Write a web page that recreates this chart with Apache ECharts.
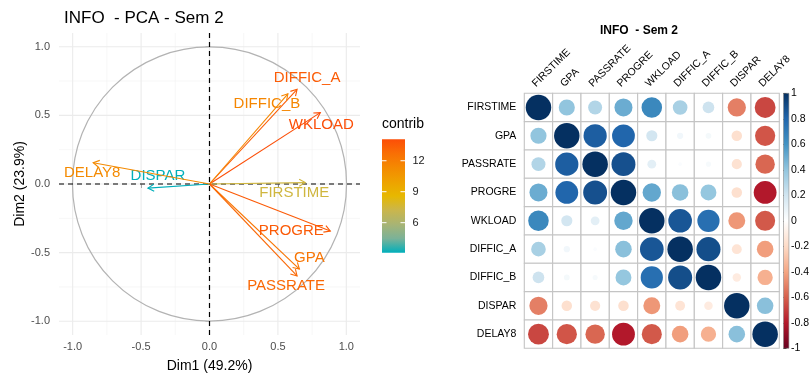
<!DOCTYPE html>
<html><head><meta charset="utf-8">
<script src="https://cdn.jsdelivr.net/npm/echarts@6/dist/echarts.min.js"></script>
<style>html,body{margin:0;padding:0;background:#fff}#c{width:812px;height:379px}</style>
</head><body><div id="c"></div><script>
// ---------- PCA data ----------
const variables = ['FIRSTIME','GPA','PASSRATE','PROGRE','WKLOAD','DIFFIC_A','DIFFIC_B','DISPAR','DELAY8'];
const dim1 = [0.70, 0.657, 0.64, 0.883, 0.81, 0.64, 0.573, -0.45, -0.85];
const dim2 = [0.01, -0.62, -0.67, -0.343, 0.52, 0.69, 0.657, -0.03, 0.155];
const contrib = [7.45, 12.4, 13.0, 13.6, 14.08, 13.5, 11.55, 3.09, 11.35];
const contribTicks = [6, 9, 12];
const pcaTicks = [-1, -0.5, 0, 0.5, 1];
const pcaMinor = [-0.75, -0.25, 0.25, 0.75];
// ---------- correlation data ----------
const corrVars = ['FIRSTIME','GPA','PASSRATE','PROGRE','WKLOAD','DIFFIC_A','DIFFIC_B','DISPAR','DELAY8'];
const corrFIRSTIME = [1, 0.40, 0.30, 0.50, 0.65, 0.33, 0.21, -0.51, -0.67];
const corrGPA      = [0.40, 1, 0.83, 0.80, 0.19, 0.06, 0.05, -0.17, -0.63];
const corrPASSRATE = [0.30, 0.83, 1, 0.88, 0.12, 0.02, 0.04, -0.16, -0.58];
const corrPROGRE   = [0.50, 0.80, 0.88, 1, 0.52, 0.42, 0.39, -0.17, -0.80];
const corrWKLOAD   = [0.65, 0.19, 0.12, 0.52, 1, 0.86, 0.76, -0.44, -0.62];
const corrDIFFIC_A = [0.33, 0.06, 0.02, 0.42, 0.86, 1, 0.89, -0.15, -0.42];
const corrDIFFIC_B = [0.21, 0.05, 0.04, 0.39, 0.76, 0.89, 1, -0.11, -0.36];
const corrDISPAR   = [-0.51, -0.17, -0.16, -0.17, -0.44, -0.15, -0.11, 1, 0.42];
const corrDELAY8   = [-0.67, -0.63, -0.58, -0.80, -0.62, -0.42, -0.36, 0.42, 1];
const corrRows = [corrFIRSTIME, corrGPA, corrPASSRATE, corrPROGRE, corrWKLOAD, corrDIFFIC_A, corrDIFFIC_B, corrDISPAR, corrDELAY8];

// ---------- styles ----------
const FONT = '"Liberation Sans", Arial, Helvetica, sans-serif';
const contribColors = ['#00AFBB','#7BB298','#A8B474','#CAB64C','#E7B800','#EEA200','#F48A01','#F96F04','#FC4E07'];
const rdbu = ['#67001F','#B2182B','#D6604D','#F4A582','#FDDBC7','#FFFFFF','#D1E5F0','#92C5DE','#4393C3','#2166AC','#053061'];
const labelOffsets = [[-11,10],[10,-11],[-11,10],[-39,0],[1,12],[10,-11],[-21,10],[10,-12],[-1,10]];
const cMin = Math.min(...contrib), cMax = Math.max(...contrib);

function stops(cols, reverse){
  const n = cols.length - 1;
  return cols.map((c,i)=>({offset: reverse ? 1 - i/n : i/n, color:c}));
}

const chart = echarts.init(document.getElementById('c'));
const arrowData = variables.map((v,i)=>[dim1[i], dim2[i], contrib[i], i]);
const corrData = [];
corrRows.forEach((row,i)=>row.forEach((v,j)=>corrData.push([j, i, v])));

chart.setOption({
  animation:false,
  backgroundColor:'#fff',
  title:[
    {text:'INFO  - PCA - Sem 2', left:59, top:5, textStyle:{fontSize:17, fontWeight:'normal', color:'#000', fontFamily:FONT}},
    {text:'INFO  - Sem 2', left:634, top:20, textAlign:'center', textStyle:{fontSize:12, fontWeight:'bold', color:'#000', fontFamily:FONT}}
  ],
  graphic:[
    {type:'text', left:382, top:117, style:{text:'contrib', fontSize:14, fontFamily:FONT, fill:'#000'}}
  ],
  visualMap:[
    {type:'continuous', show:false, seriesIndex:4, dimension:2, min:cMin, max:cMax, inRange:{color:contribColors}},
    {type:'continuous', show:false, seriesIndex:5, dimension:2, min:-1, max:1, inRange:{color:rdbu}}
  ],
  grid:[
    {left:59, top:33, width:301, height:302},
    {left:524.3, top:93.3, width:255, height:255},
    {left:783.5, top:93.3, width:10.5, height:255},
    {left:382, top:139.3, width:23, height:113.4}
  ],
  xAxis:[
    {gridIndex:0, type:'value', min:-1.1, max:1.1,
     name:'Dim1 (49.2%)', nameLocation:'middle', nameGap:24,
     nameTextStyle:{fontSize:14, color:'#000', fontFamily:FONT},
     axisLine:{show:false}, splitLine:{show:false},
     axisTick:{show:true, length:4, customValues:pcaTicks, lineStyle:{color:'#333', width:1}},
     axisLabel:{customValues:pcaTicks, margin:6, fontSize:11, color:'#4D4D4D', fontFamily:FONT, formatter:v=>v.toFixed(1)}},
    {gridIndex:1, type:'category', data:corrVars, position:'top', boundaryGap:true,
     axisLine:{show:false}, axisTick:{show:false}, splitLine:{show:false}, axisLabel:{show:false}},
    {gridIndex:2, type:'value', min:0, max:1, show:false},
    {gridIndex:3, type:'value', min:0, max:1, show:false}
  ],
  yAxis:[
    {gridIndex:0, type:'value', min:-1.1, max:1.1,
     name:'Dim2 (23.9%)', nameLocation:'middle', nameGap:31,
     nameTextStyle:{fontSize:14, color:'#000', fontFamily:FONT},
     axisLine:{show:false}, splitLine:{show:false},
     axisTick:{show:true, length:4, customValues:pcaTicks, lineStyle:{color:'#333', width:1}},
     axisLabel:{customValues:pcaTicks, margin:9, fontSize:11, color:'#4D4D4D', fontFamily:FONT, formatter:v=>v.toFixed(1)}},
    {gridIndex:1, type:'category', data:corrVars, inverse:true, boundaryGap:true,
     axisLine:{show:false}, axisTick:{show:false}, splitLine:{show:false},
     axisLabel:{margin:8, fontSize:10.5, color:'#000', fontFamily:FONT, interval:0}},
    {gridIndex:2, type:'value', min:-1, max:1, interval:0.2, position:'right',
     axisLine:{show:false}, splitLine:{show:false},
     axisTick:{show:true, length:3, lineStyle:{color:'#000', width:1}},
     axisLabel:{margin:2, fontSize:10.5, color:'#000', fontFamily:FONT}},
    {gridIndex:3, type:'value', min:cMin, max:cMax, show:false}
  ],
  series:[
    // 0: ggplot grid lines
    {type:'custom', xAxisIndex:0, yAxisIndex:0, silent:true, z:1, data:[[0,0]],
     renderItem:(params, api)=>{
       const cs = params.coordSys; const ch = [];
       pcaMinor.forEach(v=>{
         const px = api.coord([v,0])[0], py = api.coord([0,v])[1];
         ch.push({type:'line', shape:{x1:px,y1:cs.y,x2:px,y2:cs.y+cs.height}, style:{stroke:'#F2F2F2', lineWidth:0.6}});
         ch.push({type:'line', shape:{x1:cs.x,y1:py,x2:cs.x+cs.width,y2:py}, style:{stroke:'#F2F2F2', lineWidth:0.6}});
       });
       pcaTicks.forEach(v=>{
         const px = api.coord([v,0])[0], py = api.coord([0,v])[1];
         ch.push({type:'line', shape:{x1:px,y1:cs.y,x2:px,y2:cs.y+cs.height}, style:{stroke:'#EBEBEB', lineWidth:1.1}});
         ch.push({type:'line', shape:{x1:cs.x,y1:py,x2:cs.x+cs.width,y2:py}, style:{stroke:'#EBEBEB', lineWidth:1.1}});
       });
       return {type:'group', children:ch};
     }},
    // 1: unit circle
    {type:'custom', xAxisIndex:0, yAxisIndex:0, silent:true, z:2, data:[[0,0]],
     renderItem:(params, api)=>{
       const c = api.coord([0,0]); const s = api.size([1,1]);
       return {type:'circle', shape:{cx:c[0], cy:c[1], r:(s[0]+s[1])/2}, style:{stroke:'#B3B3B3', fill:'none', lineWidth:1.2}};
     }},
    // 2: dashed axes
    {type:'custom', xAxisIndex:0, yAxisIndex:0, silent:true, z:3, data:[[0,0]],
     renderItem:(params, api)=>{
       const cs = params.coordSys; const c = api.coord([0,0]);
       const st = {stroke:'#000', lineWidth:1.2, lineDash:[5,4]};
       return {type:'group', children:[
         {type:'line', shape:{x1:cs.x,y1:c[1],x2:cs.x+cs.width,y2:c[1]}, style:st},
         {type:'line', shape:{x1:c[0],y1:cs.y,x2:c[0],y2:cs.y+cs.height}, style:st}
       ]};
     }},
    // 3: contrib colorbar
    {type:'custom', xAxisIndex:3, yAxisIndex:3, silent:true, z:2, data:contribTicks.map(t=>[0.5,t]),
     renderItem:(params, api)=>{
       const cs = params.coordSys; const y = api.coord([0.5, api.value(1)])[1];
       const ch = [];
       if (params.dataIndex === 0) {
         ch.push({type:'rect', shape:{x:cs.x, y:cs.y, width:cs.width, height:cs.height},
           style:{fill:{type:'linear', x:0, y:0, x2:0, y2:1, colorStops:stops(contribColors, true)}}});
       }
       ch.push({type:'line', shape:{x1:cs.x, y1:y, x2:cs.x+4.5, y2:y}, style:{stroke:'#fff', lineWidth:1}, z2:5});
       ch.push({type:'line', shape:{x1:cs.x+cs.width-4.5, y1:y, x2:cs.x+cs.width, y2:y}, style:{stroke:'#fff', lineWidth:1}, z2:5});
       ch.push({type:'text', x:cs.x+cs.width+7.5, y:y, style:{text:String(api.value(1)), fontSize:11, fontFamily:FONT, fill:'#1A1A1A', align:'left', verticalAlign:'middle'}});
       return {type:'group', children:ch};
     }},
    // 4: arrows + labels
    {type:'custom', xAxisIndex:0, yAxisIndex:0, z:5, data:arrowData, encode:{x:0, y:1},
     renderItem:(params, api)=>{
       const i = params.dataIndex;
       const o = api.coord([0,0]); const e = api.coord([api.value(0), api.value(1)]);
       const col = api.visual('color');
       const ang = Math.atan2(e[1]-o[1], e[0]-o[0]);
       const L = 7, a = Math.PI/6;
       const p1 = [e[0]-L*Math.cos(ang-a), e[1]-L*Math.sin(ang-a)];
       const p2 = [e[0]-L*Math.cos(ang+a), e[1]-L*Math.sin(ang+a)];
       const off = labelOffsets[i];
       return {type:'group', children:[
         {type:'line', shape:{x1:o[0],y1:o[1],x2:e[0],y2:e[1]}, style:{stroke:col, lineWidth:1.1}},
         {type:'polyline', shape:{points:[p1,e,p2]}, style:{stroke:col, fill:null, lineWidth:1.1}},
         {type:'text', x:e[0]+off[0], y:e[1]+off[1], style:{text:variables[i], fill:col, fontSize:15, fontFamily:FONT, align:'center', verticalAlign:'middle'}}
       ]};
     }},
    // 5: correlation circles
    {type:'custom', xAxisIndex:1, yAxisIndex:1, z:3, data:corrData, encode:{x:0, y:1},
     renderItem:(params, api)=>{
       const c = api.coord([api.value(0), api.value(1)]); const s = api.size([1,1]);
       const v = api.value(2);
       return {type:'group', children:[
         {type:'rect', shape:{x:c[0]-s[0]/2, y:c[1]-s[1]/2, width:s[0], height:s[1]}, style:{fill:'#fff', stroke:'#C4C4C4', lineWidth:1.1}},
         {type:'circle', shape:{cx:c[0], cy:c[1], r:0.45*Math.sqrt(Math.abs(v))*s[0]}, style:{fill:api.visual('color')}}
       ]};
     }},
    // 6: correlation colour legend
    {type:'custom', xAxisIndex:2, yAxisIndex:2, silent:true, z:3, data:[[0,0]],
     renderItem:(params, api)=>{
       const cs = params.coordSys;
       return {type:'rect', shape:{x:cs.x, y:cs.y, width:cs.width, height:cs.height},
         style:{fill:{type:'linear', x:0, y:0, x2:0, y2:1, colorStops:stops(rdbu, true)}, stroke:'#888', lineWidth:0.6}};
     }},
    // 7: rotated column labels of the correlation matrix
    {type:'custom', xAxisIndex:1, yAxisIndex:1, silent:true, z:4, data:corrVars.map((v,j)=>[j,0]), encode:{x:0, y:1},
     renderItem:(params, api)=>{
       const c = api.coord([api.value(0), 0]); const top = params.coordSys.y;
       return {type:'text', x:c[0]-4.5, y:top-8, rotation:Math.PI/4,
         style:{text:corrVars[params.dataIndex], fontSize:10.5, fontFamily:FONT, fill:'#000', align:'left', verticalAlign:'middle'}};
     }}
  ]
});
</script></body></html>
